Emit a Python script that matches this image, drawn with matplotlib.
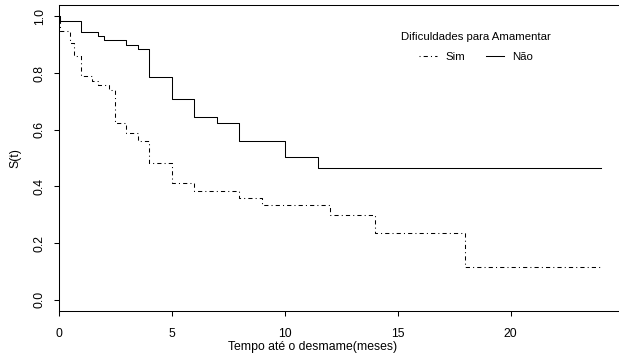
import matplotlib
matplotlib.use("Agg")
import matplotlib.pyplot as plt
from matplotlib.lines import Line2D

plt.rcParams['font.family'] = ['Liberation Sans', 'DejaVu Sans']

# Kaplan-Meier estimates
nao_t = [0, 0.05, 1, 1.75, 2, 3, 3.5, 4, 5, 6, 7, 8, 10, 11.5, 24]
nao_s = [1.0, 0.982, 0.943, 0.932, 0.917, 0.90, 0.883, 0.786, 0.707, 0.644,
         0.623, 0.559, 0.502, 0.466, 0.466]

sim_t = [0, 0.05, 0.5, 0.7, 1, 1.5, 1.75, 2.25, 2.5, 3, 3.5, 4, 5, 6, 8, 9,
         12, 14, 18, 24]
sim_s = [1.0, 0.948, 0.905, 0.86, 0.79, 0.772, 0.756, 0.739, 0.622, 0.587,
         0.559, 0.483, 0.411, 0.385, 0.359, 0.335, 0.30, 0.237, 0.114, 0.114]

xticks = [0, 5, 10, 15, 20]
yticks = [0.0, 0.2, 0.4, 0.6, 0.8, 1.0]
ytick_labels = ['0.0', '0.2', '0.4', '0.6', '0.8', '1.0']
legend_title = 'Dificuldades para Amamentar'
labels = ['Sim', 'Não']

W, H = 619, 361
fig = plt.figure(figsize=(W / 100, H / 100), dpi=100)
ax = fig.add_axes([58.5 / W, 50 / H, 565 / W, 306 / H])
ax.set_xlim(0, 25)
ax.set_ylim(-0.04, 1.04)

lw = 0.75
dashdot = (0, (1, 3, 4, 3))
ax.step(sim_t, sim_s, where='post', color='black', lw=lw, linestyle=dashdot)
ax.step(nao_t, nao_s, where='post', color='black', lw=lw)

for s in ax.spines.values():
    s.set_linewidth(0.75)
    s.set_color('black')
ax.spines['right'].set_visible(False)

fs = 8.8
ax.set_xticks(xticks)
ax.set_yticks(yticks)
ax.set_yticklabels(ytick_labels)
ax.tick_params(axis='both', direction='out', length=3.6, width=0.75,
               labelsize=fs, colors='black')
ax.tick_params(axis='x', pad=8.5)
ax.tick_params(axis='y', pad=5.5)
for lbl in ax.get_yticklabels():
    lbl.set_rotation(90)
    lbl.set_va('center')

ax.set_xlabel('Tempo até o desmame(meses)', fontsize=fs)
ax.xaxis.label.set_va('center')
ax.xaxis.set_label_coords((312.5 - 58.5) / 565, -(347 - 311) / 306)
ax.set_ylabel('S(t)', fontsize=fs)
ax.yaxis.label.set_va('center')
ax.yaxis.set_label_coords(-(58.5 - 15) / 565, 0.5)

handles = [Line2D([], [], color='black', lw=lw, linestyle=dashdot),
           Line2D([], [], color='black', lw=lw)]
leg = ax.legend(handles, labels, title=legend_title, ncol=2, frameon=False,
                fontsize=8.2, title_fontsize=8.2, loc='center',
                bbox_to_anchor=(476 / W, 1 - 47 / H),
                bbox_transform=fig.transFigure, borderpad=0,
                labelspacing=0.85,
                handlelength=1.6, handletextpad=0.76, columnspacing=1.8)

fig.savefig('out.png', dpi=100)
